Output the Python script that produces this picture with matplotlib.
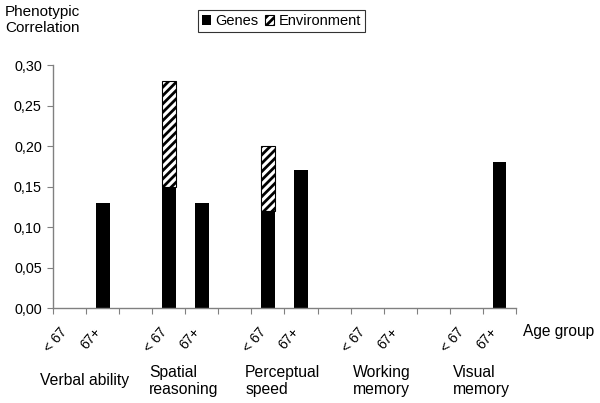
import matplotlib
matplotlib.use("Agg")
import matplotlib.pyplot as plt
import numpy as np

plt.rcParams['font.family'] = ['Liberation Sans', 'DejaVu Sans']
plt.rcParams['hatch.linewidth'] = 2.0

# categories along x (blank slots separate the groups)
age_labels = ["< 67", "67+", "", "< 67", "67+", "", "< 67", "67+", "", "< 67", "67+", "", "< 67", "67+"]
genes = [0, 0.13, 0, 0.15, 0.13, 0, 0.12, 0.17, 0, 0, 0, 0, 0, 0.18]
environment = [0, 0, 0, 0.13, 0, 0, 0.08, 0, 0, 0, 0, 0, 0, 0]
groups = ["Verbal ability", "Spatial\nreasoning", "Perceptual\nspeed", "Working\nmemory", "Visual\nmemory"]
yticks = [0, 0.05, 0.10, 0.15, 0.20, 0.25, 0.30]

fig = plt.figure(figsize=(6, 4.03), dpi=100)
ax = fig.add_axes([0.0883, 0.2357, 0.7717, 0.603])

x = np.arange(len(age_labels)) + 0.5
ax.bar(x, genes, width=0.42, color="black", linewidth=0, label="Genes")
env_edges = ["black" if v > 0 else "none" for v in environment]
ax.bar(x, environment, width=0.42, bottom=genes, color="white", edgecolor=env_edges,
       hatch="////", linewidth=0.8, label="Environment")

ax.set_xlim(0, len(age_labels))
ax.set_ylim(0, 0.30)
ax.set_yticks(yticks)
ax.set_yticklabels([("%.2f" % v).replace(".", ",") for v in yticks], fontsize=10.4)
ax.set_xticks(np.arange(len(age_labels) + 1))
ax.set_xticklabels([])
ax.tick_params(axis="x", direction="out", length=4, width=0.8, color="#808080")
ax.tick_params(axis="y", direction="out", length=4, width=0.8, color="#808080", pad=4)
for s in ["top", "right"]:
    ax.spines[s].set_visible(False)
for s in ["left", "bottom"]:
    ax.spines[s].set_color("#808080")
    ax.spines[s].set_linewidth(1.0)
ax.set_axisbelow(False)

for xi, lab in zip(x, age_labels):
    if lab:
        ax.text(xi + 0.02, -0.021, lab, rotation=50, ha="right", va="top", fontsize=10)

for i, g in enumerate(groups):
    xc = 3 * i + 1.0 - 0.05
    ax.text(xc, -0.090, g, ha="center", va="center", multialignment="left",
            fontsize=11.3, linespacing=1.15)

ax.text(len(age_labels) + 0.21, -0.0296, "Age group", ha="left", va="center", fontsize=11.2)
fig.text(0.008, 0.95, "Phenotypic\nCorrelation", ha="left", va="center", fontsize=11, linespacing=1.15)

leg = fig.legend(loc="center", bbox_to_anchor=(0.469, 0.948), ncol=2, frameon=True,
                 fancybox=False, edgecolor="black", fontsize=10.5, handlelength=0.65,
                 handleheight=0.65, handletextpad=0.3, columnspacing=0.4, borderpad=0.3)
leg.get_frame().set_linewidth(0.8)
leg.legend_handles[1].set_edgecolor("black")

fig.savefig("out.png", dpi=100)
